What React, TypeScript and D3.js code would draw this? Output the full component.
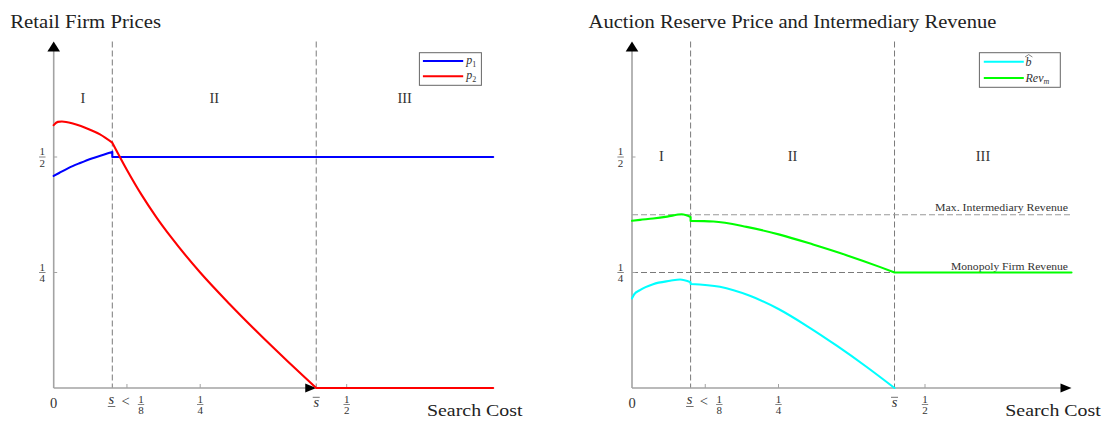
import React from "react";
import * as d3 from "d3";

// ---------------- data ----------------
const sLow = 0.1; // underline-s
const sHigh = 0.448; // overline-s
const xMax = 0.75;
const yMax = 0.75;

const xTickValues = [0.125, 0.25, 0.5];
const xTickDen = ["8", "4", "2"];
const yTickValues = [0.5, 0.25];
const yTickDen = ["2", "4"];
const regionNames = ["I", "II", "III"];

// Left panel: retail firm prices
const p1X = [0, 0.01, 0.025, 0.045, 0.065, 0.085, 0.1, 0.1, 0.75];
const p1Y = [0.459, 0.466, 0.476, 0.487, 0.497, 0.505, 0.511, 0.5, 0.5];

const p2X = [0, 0.007, 0.014, 0.034, 0.062, 0.079, 0.1, 0.125, 0.15, 0.175, 0.2, 0.25, 0.3, 0.35, 0.4, 0.448, 0.75];
const p2Y = [0.569, 0.576, 0.577, 0.572, 0.559, 0.549, 0.531, 0.472, 0.418, 0.37, 0.327, 0.25, 0.182, 0.118, 0.057, 0, 0];

// Right panel: reserve price and intermediary revenue
const bHatX = [0, 0.004, 0.0136, 0.036, 0.065, 0.082, 0.1, 0.1, 0.15, 0.2, 0.25, 0.3, 0.35, 0.4, 0.448];
const bHatY = [0.194, 0.203, 0.212, 0.2248, 0.232, 0.235, 0.229, 0.2252, 0.219, 0.2, 0.171, 0.133, 0.091, 0.046, 0];

const revX = [0, 0.0136, 0.036, 0.06, 0.085, 0.1, 0.1, 0.139, 0.1955, 0.252, 0.309, 0.366, 0.4226, 0.448, 0.75];
const revY = [0.362, 0.364, 0.367, 0.371, 0.376, 0.370, 0.3617, 0.3603, 0.3487, 0.332, 0.3106, 0.2875, 0.2622, 0.25, 0.25];

const maxRevenue = 0.375;
const monopolyRevenue = 0.25;

// ---------------- layout ----------------
const W = 1105;
const H = 421;
const Y0 = 388;
const unitX = 586;
const unitY = 462;
const FONT = "'Liberation Serif', 'Times New Roman', serif";
const AXIS = "#a3a3a3";
const DASH = "#7a7a7a";
const TXT = "#222";

type Series = { xs: number[]; ys: number[]; color: string };

function buildPath(xs: number[], ys: number[], kinks: number[], x: any, y: any) {
  const pieces: [number, number][][] = [];
  let cur: [number, number][] = [[xs[0], ys[0]]];
  for (let i = 1; i < xs.length; i++) {
    if (xs[i] === xs[i - 1]) {
      pieces.push(cur);
      cur = [[xs[i], ys[i]]];
    } else if (kinks.includes(xs[i - 1]) && cur.length > 1) {
      pieces.push(cur);
      cur = [[xs[i - 1], ys[i - 1]], [xs[i], ys[i]]];
    } else {
      cur.push([xs[i], ys[i]]);
    }
  }
  pieces.push(cur);
  const line = d3
    .line<[number, number]>()
    .x((d) => x(d[0]))
    .y((d) => y(d[1]))
    .curve(d3.curveMonotoneX);
  return pieces
    .map((p, i) => {
      const d = p.length > 1 ? (line(p) as string) : `M${x(p[0][0])},${y(p[0][1])}`;
      return i === 0 ? d : "L" + d.slice(1);
    })
    .join("");
}

function Frac({ cx, barY, den, size = 11 }: { cx: number; barY: number; den: string; size?: number }) {
  return (
    <g fill="#333" fontFamily={FONT} fontSize={size} textAnchor="middle">
      <text x={cx} y={barY - 1.6}>1</text>
      <line x1={cx - 3.2} x2={cx + 3.2} y1={barY} y2={barY} stroke="#333" strokeWidth={0.6} />
      <text x={cx} y={barY + 9.8}>{den}</text>
    </g>
  );
}

type PanelProps = {
  x0: number;
  title: string;
  titleLen: number;
  series: Series[];
  xArrowAt: number;
  regionY: number;
  legend: React.ReactNode;
  extra?: (x: any, y: any) => React.ReactNode;
};

function Panel({ x0, title, titleLen, series, xArrowAt, regionY, legend, extra }: PanelProps) {
  const x = d3.scaleLinear().domain([0, xMax]).range([x0, x0 + xMax * unitX]);
  const y = d3.scaleLinear().domain([0, yMax]).range([Y0, Y0 - yMax * unitY]);
  const yTop = y(yMax);
  const tip = x(xArrowAt);
  const regionEdges = [0, sLow, sHigh, xMax];
  return (
    <g>
      <text x={x0 - 43.4} y={28} fontFamily={FONT} fontSize={19} fill={TXT} textLength={titleLen} lengthAdjust="spacingAndGlyphs">
        {title}
      </text>
      {[sLow, sHigh].map((s, i) => (
        <line key={i} x1={x(s)} x2={x(s)} y1={yTop} y2={Y0} stroke={DASH} strokeWidth={1} strokeDasharray="6,3" />
      ))}
      {extra ? extra(x, y) : null}
      <line x1={x0} x2={x0} y1={Y0} y2={yTop + 9} stroke={AXIS} strokeWidth={1.6} />
      <polygon points={`${x0},${yTop} ${x0 - 6.3},${yTop + 10} ${x0 + 6.3},${yTop + 10}`} fill="#000" />
      <line x1={x0} x2={tip - 10} y1={Y0} y2={Y0} stroke={AXIS} strokeWidth={1.6} />
      <polygon points={`${tip},${Y0} ${tip - 11},${Y0 - 4.6} ${tip - 11},${Y0 + 4.6}`} fill="#000" />
      {yTickValues.map((v, i) => (
        <g key={i}>
          <line x1={x0} x2={x0 + 3.5} y1={y(v)} y2={y(v)} stroke={AXIS} strokeWidth={1} />
          <Frac cx={x0 - 11.4} barY={y(v)} den={yTickDen[i]} />
        </g>
      ))}
      {xTickValues.map((v, i) => (
        <g key={i}>
          <line x1={x(v)} x2={x(v)} y1={Y0} y2={Y0 - 4} stroke={AXIS} strokeWidth={1} />
          {i > 0 ? <Frac cx={x(v)} barY={404.5} den={xTickDen[i]} /> : null}
        </g>
      ))}
      <text x={x0} y={408.3} fontFamily={FONT} fontSize={14.5} fill="#333" textAnchor="middle">0</text>
      <text x={x(sLow) - 1} y={403.5} fontFamily={FONT} fontSize={14.5} fontStyle="italic" fill="#333" textAnchor="middle">s</text>
      <line x1={x(sLow) - 4.5} x2={x(sLow) + 3} y1={406.5} y2={406.5} stroke="#333" strokeWidth={0.7} />
      <text x={x(sLow) + 13.2} y={405.5} fontFamily={FONT} fontSize={14.5} fill="#333" textAnchor="middle">&lt;</text>
      <Frac cx={x(sLow) + 28.7} barY={404.5} den={xTickDen[0]} />
      <line x1={x(sHigh) - 3.5} x2={x(sHigh) + 3.5} y1={397.3} y2={397.3} stroke="#333" strokeWidth={0.7} />
      <text x={x(sHigh)} y={407.3} fontFamily={FONT} fontSize={14.5} fontStyle="italic" fill="#333" textAnchor="middle">s</text>
      <text x={x0 + 373.3} y={416} fontFamily={FONT} fontSize={17.5} fill={TXT} textLength={95.5} lengthAdjust="spacingAndGlyphs">
        Search Cost
      </text>
      {regionNames.map((r, i) => (
        <text key={r} x={x((regionEdges[i] + regionEdges[i + 1]) / 2)} y={regionY} fontFamily={FONT} fontSize={14.5} fill="#333" textAnchor="middle">
          {r}
        </text>
      ))}
      {series.map((s, i) => (
        <path key={i} d={buildPath(s.xs, s.ys, [sLow, sHigh], x, y)} fill="none" stroke={s.color} strokeWidth={2.1} strokeLinejoin="round" strokeLinecap="round" />
      ))}
      {legend}
    </g>
  );
}

export default function App() {
  const xL = 53.7;
  const xR = 632;
  const leftSeries: Series[] = [
    { xs: p1X, ys: p1Y, color: "#0000ff" },
    { xs: p2X, ys: p2Y, color: "#ff0000" },
  ];
  const rightSeries: Series[] = [
    { xs: bHatX, ys: bHatY, color: "#00ffff" },
    { xs: revX, ys: revY, color: "#00ff00" },
  ];

  const leftLegend = (
    <g>
      <rect x={xL + 365.7} y={52.7} width={62} height={32.6} fill="#fff" stroke="#666" strokeWidth={1} />
      <line x1={xL + 369.2} x2={xL + 409.5} y1={61} y2={61} stroke="#0000ff" strokeWidth={2} />
      <line x1={xL + 369.2} x2={xL + 409.5} y1={76.3} y2={76.3} stroke="#ff0000" strokeWidth={2} />
      <text x={xL + 412.5} y={64} fontFamily={FONT} fontSize={12} fontStyle="italic" fill="#333">
        p<tspan fontSize={8} fontStyle="normal" dy={2.5}>1</tspan>
      </text>
      <text x={xL + 412.5} y={79.3} fontFamily={FONT} fontSize={12} fontStyle="italic" fill="#333">
        p<tspan fontSize={8} fontStyle="normal" dy={2.5}>2</tspan>
      </text>
    </g>
  );

  const bx = xR + 393.5;
  const rightLegend = (
    <g>
      <rect x={xR + 347.4} y={52.7} width={80.9} height={34.6} fill="#fff" stroke="#666" strokeWidth={1} />
      <line x1={xR + 351.8} x2={xR + 391.8} y1={61.7} y2={61.7} stroke="#00ffff" strokeWidth={2} />
      <line x1={xR + 351.8} x2={xR + 391.8} y1={78} y2={78} stroke="#00ff00" strokeWidth={2} />
      <text x={bx} y={66} fontFamily={FONT} fontSize={12} fontStyle="italic" fill="#333">b</text>
      <path d={`M${bx - 0.5},${57} L${bx + 3.2},${54.6} L${bx + 6.9},${57}`} fill="none" stroke="#333" strokeWidth={0.6} />
      <text x={bx} y={82} fontFamily={FONT} fontSize={12} fontStyle="italic" fill="#333">
        Rev<tspan fontSize={8} dy={2}>m</tspan>
      </text>
    </g>
  );

  const rightExtra = (x: any, y: any) => (
    <g>
      <line x1={x(0)} x2={x(xMax)} y1={y(maxRevenue)} y2={y(maxRevenue)} stroke="#999" strokeWidth={1.1} strokeDasharray="6,3" />
      <line x1={x(0)} x2={x(xMax)} y1={y(monopolyRevenue)} y2={y(monopolyRevenue)} stroke={DASH} strokeWidth={1.1} strokeDasharray="6,3" />
      <text x={x(0) + 436} y={y(maxRevenue) - 3.6} fontFamily={FONT} fontSize={11} fill="#333" textAnchor="end" textLength={133} lengthAdjust="spacingAndGlyphs">
        Max. Intermediary Revenue
      </text>
      <text x={x(0) + 436} y={y(monopolyRevenue) - 2.8} fontFamily={FONT} fontSize={11} fill="#333" textAnchor="end" textLength={117} lengthAdjust="spacingAndGlyphs">
        Monopoly Firm Revenue
      </text>
    </g>
  );

  return (
    <svg width={W} height={H} viewBox={`0 0 ${W} ${H}`} style={{ position: "absolute", left: 0, top: 0, background: "#fff" }}>
      <rect x={0} y={0} width={W} height={H} fill="#fff" />
      <Panel
        x0={xL}
        title="Retail Firm Prices"
        titleLen={150.7}
        series={leftSeries}
        xArrowAt={sHigh}
        regionY={103.3}
        legend={leftLegend}
      />
      <Panel
        x0={xR}
        title="Auction Reserve Price and Intermediary Revenue"
        titleLen={407.7}
        series={rightSeries}
        xArrowAt={xMax}
        regionY={160.7}
        legend={rightLegend}
        extra={rightExtra}
      />
    </svg>
  );
}
